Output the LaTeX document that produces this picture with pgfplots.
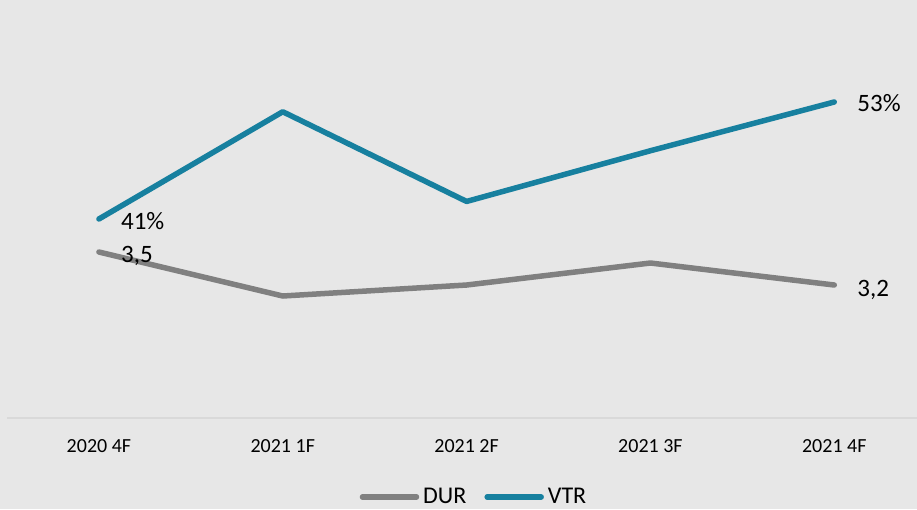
\documentclass[border=0pt]{standalone}
\usepackage{pgfplots}
\pgfplotsset{compat=1.18}
\usepackage{fontspec}
\setmainfont{Carlito}
\definecolor{bg}{HTML}{E7E7E7}
\definecolor{durc}{HTML}{808080}
\definecolor{vtrc}{HTML}{17809F}
\definecolor{axc}{HTML}{D9D9D9}
\begin{document}
\begin{tikzpicture}[x=1pt,y=1pt]
\fill[bg] (0,0) rectangle (917,509);
\useasboundingbox (0,0) rectangle (917,509);
\pgfplotsset{common/.style={
  at={(7pt,91pt)}, anchor=south west,
  scale only axis, width=910pt, height=418pt,
  xmin=-0.5, xmax=4.45,
  clip=false,
}}
\begin{axis}[common,
  ymin=1.991, ymax=5.791,
  axis x line=bottom, hide y axis,
  axis line style={axc, line width=2pt, -},
  xtick={0,1,2,3,4},
  xticklabels={2020 4F,2021 1F,2021 2F,2021 3F,2021 4F},
  major tick length=0pt,
  xticklabel style={font=\fontsize{20}{24}\selectfont, anchor=center, yshift=-28pt, text=black},
]
\addplot[durc, line width=5.5pt, line join=round, line cap=round] coordinates {
  (0,3.5) (1,3.1) (2,3.2) (3,3.4) (4,3.2)};
\node[anchor=west, inner sep=0pt, xshift=22pt, yshift=-4pt, font=\fontsize{25}{30}\selectfont] at (axis cs:0,3.5) {3,5};
\node[anchor=west, inner sep=0pt, xshift=23pt, yshift=-5pt, font=\fontsize{25}{30}\selectfont] at (axis cs:4,3.2) {3,2};
\end{axis}
\begin{axis}[common,
  ymin=20.59, ymax=63.46,
  axis lines=none,
  legend columns=2,
  legend style={draw=none, fill=none, at={(rel axis cs:0.5,0)}, anchor=center, xshift=12pt, yshift=-79pt,
    font=\fontsize{24}{28}\selectfont, inner sep=0pt,
    /tikz/every odd column/.append style={column sep=2pt},
    /tikz/every even column/.append style={column sep=16pt}},
  legend image code/.code={\draw[#1, line cap=round] (0pt,0pt) -- (54pt,0pt);},
]
\addlegendimage{durc, line width=5.5pt}
\addlegendentry{DUR}
\addplot[vtrc, line width=5.5pt, line join=round, line cap=round] coordinates {
  (0,41) (1,52) (2,42.8) (3,48) (4,53)};
\addlegendentry{VTR}
\node[anchor=west, inner sep=0pt, xshift=22pt, yshift=-2pt, font=\fontsize{25}{30}\selectfont] at (axis cs:0,41) {41\%};
\node[anchor=west, inner sep=0pt, xshift=23pt, yshift=-1pt, font=\fontsize{25}{30}\selectfont] at (axis cs:4,53) {53\%};
\end{axis}
\end{tikzpicture}
\end{document}
